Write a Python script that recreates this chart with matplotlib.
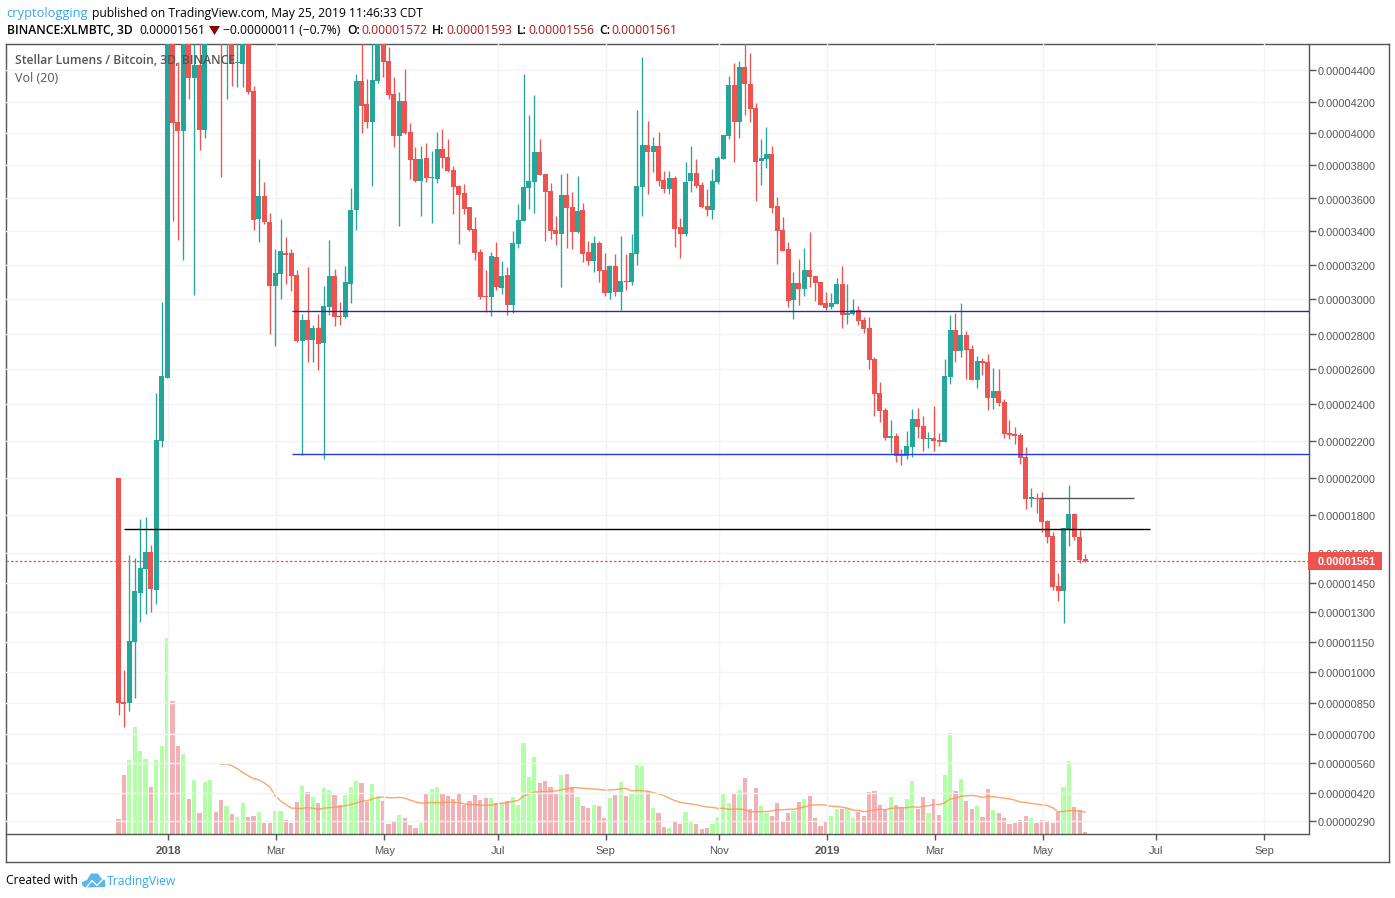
import numpy as np
import pandas as pd
import matplotlib
matplotlib.use('Agg')
import matplotlib.pyplot as plt
from matplotlib.patches import Polygon, Rectangle
from matplotlib.ticker import FixedLocator, FuncFormatter, NullLocator
from matplotlib.transforms import ScaledTranslation

# XLM/BTC 3D candles, prices in satoshi (1e-8 BTC)
opens = [2002, 854, 853, 1153, 1402, 1521, 1605, 1415, 2202, 2550,
         4900, 4072, 4015, 4800, 4354, 4433, 4021, 4650, 4900, 4780,
         4650, 4850, 4445, 4440, 4750, 4270, 3474, 3614, 3455, 3078,
         3149, 3271, 3273, 3143, 2762, 2882, 2767, 2836, 2750, 2956,
         3137, 2905, 2899, 3090, 3529, 4333, 4189, 4073, 4333, 4650,
         4458, 4252, 3983, 4208, 4008, 3839, 3705, 3845, 3723, 3717,
         3902, 3851, 3772, 3675, 3632, 3547, 3414, 3278, 3020, 3014,
         3249, 3067, 3143, 2967, 3325, 3462, 3663, 3699, 3884, 3747,
         3645, 3408, 3384, 3620, 3547, 3396, 3529, 3278, 3225, 3331,
         3172, 3037, 3196, 3043, 3108, 3102, 3266, 3669, 3928, 3884,
         3921, 3711, 3657, 3723, 3426, 3384, 3705, 3753, 3681, 3553,
         3529, 3699, 3839, 3983, 4308, 4073, 4421, 4314, 4163, 3827,
         3839, 3871, 3553, 3408, 3296, 2996, 3096, 3061, 3172, 3137,
         3102, 2979, 2956, 2973, 3090, 2910, 2916, 2939, 2882, 2836,
         2659, 2466, 2369, 2218, 2229, 2126, 2121, 2169, 2320, 2283,
         2212, 2218, 2207, 2196, 2556, 2825, 2704, 2796, 2716, 2539,
         2647, 2642, 2436, 2476, 2413, 2245, 2239, 2234, 2115, 1888,
         1893, 1893, 1770, 1690, 1436, 1410, 1722, 1808, 1685, 1572]
highs = [2002, 1011, 1590, 1575, 1780, 1792, 1645, 2465, 2985, 5100,
         5050, 4454, 4950, 4950, 4700, 4620, 4750, 5000, 5000, 4850,
         4950, 4950, 4700, 4900, 4850, 4302, 3838, 3699, 3510, 3296,
         3474, 3366, 3296, 3172, 2916, 3190, 2853, 2916, 3078, 3349,
         3178, 2985, 3196, 3663, 4377, 4600, 4346, 4620, 4800, 4750,
         4546, 4358, 4264, 4410, 4066, 3915, 3921, 3940, 3890, 4008,
         4028, 3964, 3796, 3681, 3687, 3547, 3486, 3296, 3172, 3278,
         3337, 3225, 3190, 3402, 3565, 4377, 4118, 4246, 3964, 3747,
         3693, 3492, 3747, 3753, 3639, 3735, 3571, 3343, 3372, 3343,
         3273, 3202, 3266, 3372, 3266, 3384, 4150, 4483, 4080, 3977,
         4008, 3766, 3766, 3735, 3480, 3821, 3921, 3839, 3699, 3657,
         3778, 3858, 3990, 4364, 4446, 4458, 4590, 4508, 4195, 3964,
         4040, 3921, 3608, 3486, 3337, 3161, 3237, 3302, 3396, 3137,
         3102, 3043, 3037, 3125, 3196, 3090, 3002, 2962, 2899, 2899,
         2670, 2528, 2380, 2315, 2245, 2158, 2256, 2375, 2380, 2337,
         2250, 2391, 2245, 2659, 2910, 2922, 2979, 2819, 2739, 2676,
         2664, 2687, 2607, 2602, 2430, 2315, 2277, 2245, 2169, 1947,
         1920, 1926, 1775, 1711, 1501, 1733, 1964, 1813, 1722, 1593]
lows = [793, 737, 814, 877, 1253, 1293, 1302, 1342, 2169, 2550,
        3461, 3349, 3231, 4221, 3025, 3896, 3970, 4600, 4600, 3731,
        4221, 4302, 4298, 4298, 4252, 3408, 3337, 3443, 2802, 2733,
        3002, 3090, 3049, 2756, 2128, 2642, 2642, 2596, 2107, 2910,
        2848, 2853, 2893, 2979, 3408, 4002, 4034, 3674, 4320, 4358,
        4221, 3915, 3431, 3996, 3717, 3699, 3492, 3699, 3449, 3693,
        3784, 3760, 3505, 3325, 3505, 3402, 3231, 3002, 2928, 2905,
        3055, 3031, 2910, 2922, 3302, 3462, 3535, 3511, 3741, 3343,
        3355, 3319, 3073, 3302, 3296, 3390, 3219, 3202, 3161, 3102,
        3020, 3002, 3020, 2939, 3055, 3084, 3202, 3492, 3626, 3760,
        3675, 3632, 3626, 3308, 3243, 3372, 3639, 3663, 3541, 3492,
        3474, 3687, 3839, 3964, 3821, 3970, 4118, 4073, 3583, 3681,
        3784, 3511, 3208, 3284, 2956, 2888, 2967, 3020, 3073, 2990,
        2967, 2939, 2944, 2973, 2836, 2859, 2910, 2853, 2807, 2602,
        2337, 2304, 2207, 2137, 2088, 2072, 2104, 2115, 2218, 2148,
        2164, 2148, 2175, 2196, 2516, 2642, 2670, 2545, 2539, 2493,
        2568, 2369, 2375, 2391, 2218, 2212, 2185, 2078, 1834, 1845,
        1813, 1711, 1654, 1415, 1359, 1246, 1637, 1669, 1550, 1556]
closes = [853, 849, 1156, 1410, 1524, 1605, 1420, 2207, 2562, 4900,
          4068, 4015, 4800, 4354, 4433, 4021, 4650, 4900, 4780, 4650,
          4850, 4440, 4450, 4750, 4266, 3468, 3614, 3455, 3078, 3155,
          3284, 3263, 3137, 2762, 2882, 2767, 2836, 2744, 2962, 3137,
          2899, 2899, 3102, 3529, 4333, 4176, 4073, 4339, 4650, 4452,
          4246, 3983, 4208, 4002, 3833, 3705, 3839, 3723, 3729, 3902,
          3845, 3766, 3669, 3620, 3535, 3408, 3273, 3014, 3013, 3255,
          3073, 3137, 2967, 3331, 3468, 3669, 3705, 3884, 3741, 3639,
          3402, 3384, 3620, 3541, 3396, 3523, 3266, 3225, 3331, 3166,
          3037, 3196, 3043, 3108, 3102, 3273, 3675, 3928, 3884, 3921,
          3705, 3657, 3723, 3414, 3384, 3699, 3753, 3675, 3547, 3529,
          3705, 3845, 3990, 4308, 4073, 4421, 4314, 4157, 3821, 3845,
          3871, 3541, 3402, 3284, 2990, 3096, 3061, 3172, 3131, 3096,
          2967, 2950, 2979, 3090, 2910, 2922, 2939, 2876, 2830, 2653,
          2460, 2364, 2218, 2229, 2121, 2121, 2175, 2320, 2277, 2212,
          2218, 2202, 2196, 2562, 2825, 2704, 2796, 2710, 2539, 2647,
          2636, 2436, 2476, 2407, 2239, 2234, 2229, 2110, 1888, 1899,
          1888, 1765, 1685, 1430, 1410, 1733, 1808, 1685, 1565, 1561]
volumes = [15, 59, 74, 107, 83, 75, 47, 74, 88, 196,
           133, 88, 80, 35, 54, 21, 52, 54, 22, 34,
           28, 20, 17, 31, 17, 18, 22, 11, 11, 23,
           23, 14, 11, 32, 48, 42, 37, 31, 46, 44,
           39, 29, 39, 47, 53, 51, 32, 50, 38, 33,
           10, 13, 19, 16, 9, 6, 11, 41, 45, 47,
           40, 38, 35, 40, 29, 33, 39, 34, 36, 36,
           31, 31, 33, 37, 29, 91, 57, 77, 51, 53,
           47, 41, 59, 60, 47, 37, 28, 26, 29, 28,
           16, 36, 39, 52, 38, 40, 69, 68, 43, 26,
           21, 7, 6, 13, 10, 22, 12, 10, 5, 6,
           10, 17, 40, 31, 40, 44, 56, 25, 46, 28,
           21, 18, 31, 12, 21, 23, 32, 35, 38, 16,
           8, 13, 18, 25, 25, 26, 16, 22, 18, 42,
           43, 29, 25, 37, 29, 27, 35, 53, 25, 37,
           21, 35, 19, 59, 101, 43, 55, 33, 25, 28,
           17, 45, 24, 21, 16, 10, 11, 14, 18, 16,
           11, 14, 12, 11, 22, 47, 73, 27, 24, 2]

price_ticks = [4400, 4200, 4000, 3800, 3600, 3400, 3200, 3000, 2800, 2600, 2400, 2200,
               2000, 1800, 1600, 1450, 1300, 1150, 1000, 850, 700, 560, 420, 290]
date_ticks = [9, 29, 49, 70, 90, 111, 131, 151, 171, 192, 212]
date_labels = ['2018', 'Mar', 'May', 'Jul', 'Sep', 'Nov', '2019', 'Mar', 'May', 'Jul', 'Sep']

# drawn levels: price, first bar, last bar, colour
level_prices = [2933, 2130, 1726, 1893]
level_starts = [32.1, 32.1, 1, 170.6]
level_ends = [220.4, 220.4, 191, 188]
level_colors = ['#2a2aa8', '#2438e8', '#000000', '#555555']

W, H = 1395, 898
GREEN, RED = '#26a69a', '#ef5350'
VOL_GREEN, VOL_RED = '#b2ffa8', '#f0b2b4'
GRID = '#f1f3f6'
TEXT = '#555555'
BLUE = '#37a6ef'
FONT = 'Open Sans'

# the price pane uses a stretched scale, so pin it to where the ticks sit on screen
scale_prices = np.array([231, 290, 420, 560, 700, 850, 1000, 1150, 1300, 1450, 1600, 1800, 2000,
                         2200, 2400, 2600, 2800, 3000, 3200, 3400, 3600, 3800, 4000, 4200, 4400, 4564, 6000])
scale_pos = -np.array([834, 821.3, 793.3, 763.3, 734.3, 703.3, 672.3, 642.3, 612.3, 583.3, 553, 515.3, 478.3,
                       441.3, 404.3, 369.3, 334.3, 299.3, 265.3, 231.3, 198.3, 165.3, 133.3, 102.3, 70.3, 44, -186])


def to_screen(p):
    return np.interp(p, scale_prices, scale_pos)


def from_screen(v):
    return np.interp(v, scale_pos, scale_prices)


def px_x(x):
    return x / W


def px_y(y):
    return 1 - y / H


def label(x, y, s, color='#000000', size=8.75, weight='normal', family=FONT, ha='left'):
    return fig.text(px_x(x), px_y(y), s, color=color, fontsize=size, fontweight=weight,
                    family=family, ha=ha, va='center')


fig = plt.figure(figsize=(W / 100, H / 100), dpi=100, facecolor='white')

# outer frame that also holds the axis strips
frame = fig.add_axes([px_x(6), px_y(862), (1389 - 6) / W, (862 - 44) / H])
frame.set_xticks([])
frame.set_yticks([])
for s in frame.spines.values():
    s.set_color(TEXT)
    s.set_linewidth(1)

# volume sits underneath the candles on its own scale
vol_ax = fig.add_axes([px_x(6), px_y(834), 1302.5 / W, 790 / H])
vol_ax.patch.set_visible(False)
ax = fig.add_axes([px_x(6), px_y(834), 1302.5 / W, 790 / H], sharex=vol_ax)
ax.patch.set_visible(False)

idx = np.arange(len(closes))
o, h, l, c = map(np.array, (opens, highs, lows, closes))
up = c >= o

vol_ax.bar(idx, volumes, width=0.8, color=[VOL_GREEN if u else VOL_RED for u in up], linewidth=0)
vol_ma = pd.Series(volumes).rolling(20).mean()
vol_ax.plot(idx, vol_ma, color='#ff9550', linewidth=1, alpha=0.85)
vol_ax.set_ylim(0, 790)
vol_ax.axis('off')

ax.set_yscale('function', functions=(to_screen, from_screen))

colors = np.where(up, GREEN, RED)
ax.vlines(idx, l, h, colors=colors, linewidth=0.95, zorder=3)
ax.bar(idx, np.abs(c - o), bottom=np.minimum(o, c), width=0.92, color=colors, linewidth=0, zorder=4)

for p, a, b, col in zip(level_prices, level_starts, level_ends, level_colors):
    ax.hlines(p, a, b, color=col, linewidth=1.0, zorder=5)
ax.axhline(closes[-1], color=RED, linewidth=0.9, linestyle=(0, (2, 1.6)), zorder=5)

ax.set_xlim((6 - 118.5) / 5.4, (1308.5 - 118.5) / 5.4)
ax.set_ylim(231, 4564)

ax.yaxis.set_major_locator(FixedLocator(price_ticks))
ax.yaxis.set_minor_locator(NullLocator())
ax.yaxis.set_major_formatter(FuncFormatter(lambda v, pos: f'{v * 1e-8:.8f}'))
ax.set_xticks(np.array(date_ticks) + 0.2)
ax.set_xticklabels(date_labels)

ax.grid(True, color=GRID, linewidth=1, zorder=0)
ax.set_axisbelow(True)
ax.tick_params(axis='y', left=False, labelleft=False, right=True, labelright=True,
               length=5, width=1, color=TEXT, labelcolor=TEXT, pad=1.4)
ax.tick_params(axis='x', length=4, width=1, color=TEXT, labelcolor=TEXT, pad=5)
nudge_down = ScaledTranslation(0, -1.2 / 100, fig.dpi_scale_trans)
for t in ax.get_yticklabels():
    t.set_fontfamily('Liberation Sans')
    t.set_fontsize(7.9)
    t.set_transform(t.get_transform() + nudge_down)
for t in ax.get_xticklabels():
    t.set_fontfamily('Liberation Sans')
    t.set_fontsize(8)
    if t.get_text() in ('2018', '2019'):
        t.set_fontweight('bold')
        t.set_fontsize(8.2)
for name, s in ax.spines.items():
    s.set_visible(name in ('right', 'bottom'))
    s.set_color(TEXT)
    s.set_linewidth(1)

# last price tag on the axis strip
tag_y = H - ax.transData.transform((0, closes[-1]))[1]
fig.add_artist(Rectangle((px_x(1308), px_y(tag_y + 8.7)), 74 / W, 17.4 / H, transform=fig.transFigure,
                         facecolor=RED, edgecolor='none', zorder=6))
lbl = label(1318, tag_y + 1, f'{closes[-1] * 1e-8:.8f}', color='white', size=7.9, weight='bold', family='Liberation Sans')
lbl.set_zorder(7)

# pane legend
label(15, 61, 'Stellar Lumens / Bitcoin, 3D, BINANCE', color=TEXT, size=8.75, weight=600)
label(15, 78, 'Vol (20)', color=TEXT, size=9)

# header rows
label(6, 13.5, 'cryptologging', color=BLUE, size=9.3)
label(91.5, 13.5, 'published on TradingView.com, May 25, 2019 11:46:33 CDT')
label(6.5, 30.5, 'BINANCE:XLMBTC, 3D', weight=600)
label(139, 30.5, '0.00001561')
fig.add_artist(Polygon([[px_x(209), px_y(26)], [px_x(220), px_y(26)], [px_x(214.5), px_y(35)]],
                       transform=fig.transFigure, facecolor='#8b0000', edgecolor='none'))
label(223, 30.5, '\u22120.00000011 (\u22120.7%)')
for x, s, vx, v in [(347, 'O:', 361.5, '0.00001572'), (432, 'H:', 446.5, '0.00001593'),
                    (517, 'L:', 528, '0.00001556'), (599, 'C:', 611.5, '0.00001561')]:
    label(x, 30.5, s, weight=600)
    label(vx, 30.5, v, color='#a8141a')

# footer with the small cloud mark
label(6, 881, 'Created with')
cloud = [[82, 885], [82, 882], [87, 880], [91, 873.5], [98, 873.5], [101, 878], [105, 880], [105.5, 887], [85, 887.5]]
fig.add_artist(Polygon([[px_x(x), px_y(y)] for x, y in cloud], transform=fig.transFigure,
                       facecolor='#5cb6ea', edgecolor='none'))
zigzag = [[86, 888], [92, 880.5], [97, 885.5], [103, 879]]
fig.add_artist(plt.Line2D([px_x(x) for x, y in zigzag], [px_y(y) for x, y in zigzag],
                          transform=fig.transFigure, color='white', linewidth=1.0))
label(106.5, 881, 'TradingView', color=BLUE)

fig.savefig('out.png', dpi=100)
